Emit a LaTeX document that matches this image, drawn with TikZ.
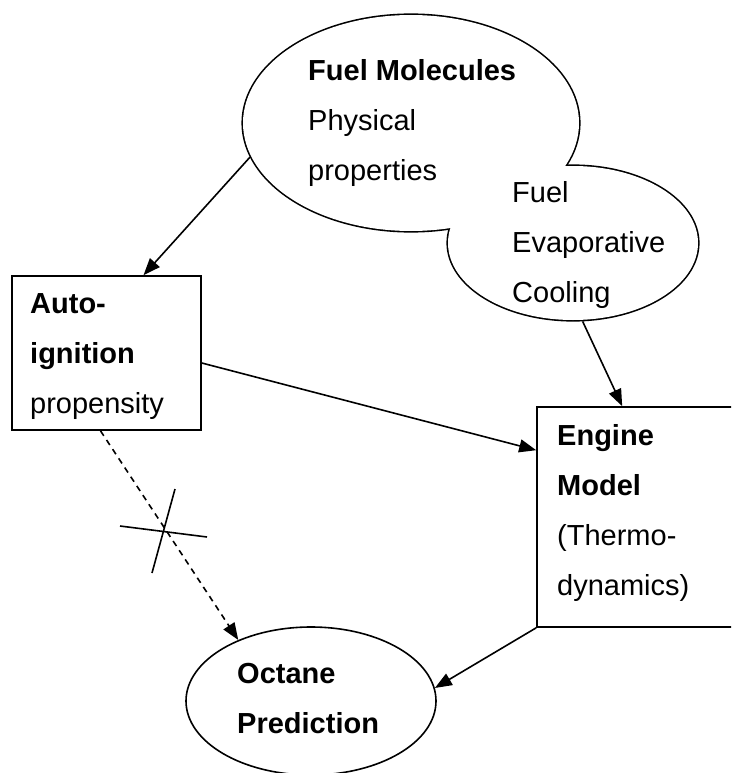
\documentclass[tikz,border=0pt]{standalone}
\usepackage{fontspec}
\setmainfont{Liberation Sans}
\usetikzlibrary{shapes.geometric,arrows.meta}

\begin{document}
\begin{tikzpicture}[x=1pt,y=-1pt,
  every node/.style={font=\fontsize{29}{50}\selectfont, inner sep=0pt},
  txt/.style={anchor=base west, align=left},
  box/.style={draw, line width=1.6pt, rectangle},
  oval/.style={draw, line width=1.6pt, ellipse},
  blob/.style={draw, line width=3.2pt, ellipse},
  link/.style={line width=1.6pt, -{Triangle[length=17pt,width=13pt]}}]
  \clip (0,0) rectangle (731,773);
  \fill[white] (0,0) rectangle (731,773);
  \node[blob, minimum width=336pt, minimum height=216pt] (mol) at (411,123) {};
  \node[blob, minimum width=250pt, minimum height=154pt] (evap) at (573,243) {};
  \fill[white] (mol.center) ellipse [x radius=168, y radius=108];
  \fill[white] (evap.center) ellipse [x radius=125, y radius=77];
  \node[box, minimum width=189pt, minimum height=154pt] (auto) at (106.5,353) {};
  \node[box, minimum width=223pt, minimum height=220pt] (eng) at (648.5,517) {};
  \node[oval, minimum width=250pt, minimum height=148pt] (oct) at (311,701) {};
  % base anchor sits on the last line
  \node[txt] (molTxt) at (308,180) {\textbf{Fuel Molecules}\\Physical\\properties};
  \node[txt] (evapTxt) at (512,302) {Fuel\\Evaporative\\Cooling};
  \node[txt] (autoTxt) at (30,413) {\textbf{Auto-}\\\textbf{ignition}\\propensity};
  \node[txt] (engTxt) at (557,595) {\textbf{Engine}\\\textbf{Model}\\(Thermo-\\dynamics)};
  \node[txt] (octTxt) at (237,733) {\textbf{Octane}\\\textbf{Prediction}};
  \draw[link] (mol.192) -- ([xshift=37pt]auto.north);
  \draw[link] (evap.-83) -- ([xshift=86pt]eng.north west);
  \draw[link] ([yshift=-10pt]auto.east) -- ([yshift=-44pt]eng.north west);
  \draw[link] (eng.south west) -- (oct.6);
  \draw[link, dash pattern=on 6pt off 5pt] ([xshift=-6pt]auto.south) -- (oct.140);
  \draw[line width=1.6pt] (120,526) -- (207,537) (175,489) -- (152,573);
\end{tikzpicture}
\end{document}
